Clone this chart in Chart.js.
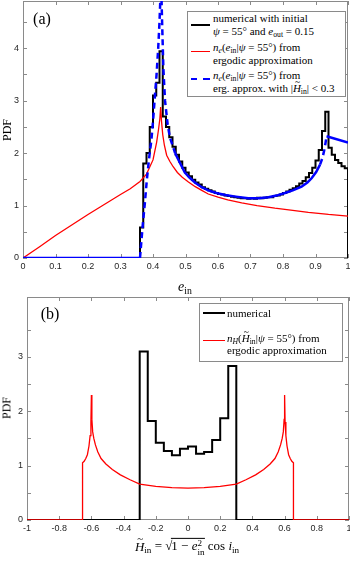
<!DOCTYPE html>
<html lang="en">
<head>
<meta charset="UTF-8">
<meta name="viewport" content="width=device-width, initial-scale=1.0">
<title>PDF of e_in and H_in</title>
<script src="https://cdn.jsdelivr.net/npm/chart.js"></script>
<style>
  body { margin:0; background:#fff; }
  #wrap { position:relative; width:350px; height:561px; overflow:hidden;
          font-family:"Liberation Serif", "DejaVu Serif", serif; color:#000; }
  .panel { position:absolute; left:0; width:350px; }
  .txt { position:absolute; white-space:nowrap; font-size:11px; line-height:12.5px; }
  .box { position:absolute; border:1px solid #8a8a8a; background:#fff; box-sizing:border-box; }
  .smp { position:absolute; height:0; }
  .lbl { position:absolute; white-space:nowrap; transform:translate(-50%,-50%); }
  sub { font-size:70%; line-height:0; vertical-align:-0.3em; }
  .ht { position:relative; display:inline-block; }
  .ht::before { content:"~"; position:absolute; left:0.22em; top:-0.62em; font-style:normal; font-size:0.85em; }
  .ss { display:inline-block; vertical-align:middle; font-size:70%; line-height:0.95; }
  .ss span { display:block; }
  .rt { display:inline-block; border-top:1px solid #000; line-height:1.15; margin-left:-1px; }
</style>
</head>
<body>
<div id="wrap">
  <div class="panel" style="top:0;height:280px"><canvas id="chartA"></canvas></div>
  <div class="panel" style="top:290px;height:250px"><canvas id="chartB"></canvas></div>

  <!-- panel (a) labels -->
  <div class="lbl" style="left:42px;top:19px;font-size:16px">(a)</div>
  <div class="lbl" style="left:7px;top:130px;font-size:12px;transform:translate(-50%,-50%) rotate(-90deg)">PDF</div>
  <div class="lbl" style="left:185px;top:287px;font-size:14px"><i>e</i><sub>in</sub></div>

  <div class="box" style="left:187px;top:11px;width:159px;height:86px"></div>
  <div class="smp" style="left:191px;top:24px;width:19px;border-top:2px solid #000"></div>
  <div class="txt" style="left:213px;top:12px">numerical with initial<br><i>ψ</i> = 55° and <i>e</i><sub>out</sub> = 0.15</div>
  <div class="smp" style="left:191px;top:51.4px;width:19px;border-top:1.3px solid #ff0000"></div>
  <div class="txt" style="left:213px;top:41px"><i>n<sub>e</sub></i>(<i>e</i><sub>in</sub>|<i>ψ</i> = 55°) from<br>ergodic approximation</div>
  <div class="smp" style="left:191px;top:77.8px;width:6px;border-top:2.5px solid #0000ff"></div>
  <div class="smp" style="left:203px;top:77.8px;width:7px;border-top:2.5px solid #0000ff"></div>
  <div class="txt" style="left:213px;top:69px"><i>n<sub>e</sub></i>(<i>e</i><sub>in</sub>|<i>ψ</i> = 55°) from<br>erg. approx. with |<i class="ht">H</i><sub>in</sub>| &lt; 0.3</div>

  <!-- panel (b) labels -->
  <div class="lbl" style="left:50px;top:314px;font-size:16px">(b)</div>
  <div class="lbl" style="left:7px;top:408px;font-size:12px;transform:translate(-50%,-50%) rotate(-90deg)">PDF</div>
  <div class="lbl" style="left:187px;top:547px;font-size:13px"><i class="ht">H</i><sub>in</sub> = √<span class="rt">1 − <i>e</i><span class="ss"><span>2</span><span>in</span></span></span> cos <i>i</i><sub>in</sub></div>

  <div class="box" style="left:199px;top:303px;width:144px;height:59px"></div>
  <div class="smp" style="left:203px;top:312px;width:22px;border-top:2px solid #000"></div>
  <div class="txt" style="left:227px;top:306.8px">numerical</div>
  <div class="smp" style="left:203px;top:340.4px;width:22px;border-top:1.3px solid #ff0000"></div>
  <div class="txt" style="left:227px;top:331.8px"><i>n<sub>H</sub></i>(<i class="ht">H</i><sub>in</sub>|<i>ψ</i> = 55°) from<br>ergodic approximation</div>
</div>

<script>
// ---- panel (a): distribution of e_in ----
// histogram: left bin edges and heights (last point closes the histogram)
const eBins = [0, 0.36, 0.37, 0.38, 0.39, 0.40, 0.41, 0.42, 0.43, 0.44, 0.45, 0.46, 0.47, 0.48, 0.49,
  0.50, 0.51, 0.52, 0.53, 0.54, 0.55, 0.56, 0.57, 0.58, 0.59, 0.60, 0.61, 0.62, 0.63, 0.64, 0.65,
  0.66, 0.67, 0.68, 0.69, 0.70, 0.71, 0.72, 0.73, 0.74, 0.75, 0.76, 0.77, 0.78, 0.79, 0.80, 0.81,
  0.82, 0.83, 0.84, 0.85, 0.86, 0.87, 0.88, 0.89, 0.90, 0.91, 0.92, 0.93, 0.94, 0.95, 0.96, 0.97,
  0.98, 0.99, 1.00];
const eHist = [0, 0.58, 1.80, 2.00, 2.50, 3.10, 3.34, 3.94, 2.70, 2.50, 2.30, 2.12, 1.97, 1.84, 1.72,
  1.63, 1.56, 1.49, 1.44, 1.40, 1.35, 1.32, 1.29, 1.27, 1.24, 1.22, 1.21, 1.19, 1.18, 1.17, 1.16,
  1.15, 1.14, 1.14, 1.13, 1.14, 1.13, 1.15, 1.14, 1.15, 1.16, 1.16, 1.18, 1.19, 1.21, 1.24, 1.27,
  1.30, 1.33, 1.37, 1.42, 1.47, 1.54, 1.62, 1.72, 1.86, 2.06, 2.42, 2.79, 2.10, 1.97, 1.87, 1.81,
  1.75, 1.71, 0];

// ergodic approximation
const eRedX = [0, 0.05, 0.1, 0.15, 0.2, 0.25, 0.3, 0.33, 0.36, 0.38, 0.40, 0.411, 0.417, 0.421, 0.4235,
  0.426, 0.43, 0.435, 0.442, 0.452, 0.462, 0.475, 0.49, 0.509, 0.53, 0.55, 0.57, 0.6, 0.63, 0.673,
  0.72, 0.775, 0.83, 0.878, 0.94, 1.0];
const eRedY = [0, 0.21, 0.43, 0.63, 0.83, 1.02, 1.21, 1.32, 1.46, 1.60, 1.87, 2.20, 2.45, 2.65, 2.88,
  2.62, 2.35, 2.15, 1.96, 1.84, 1.74, 1.63, 1.54, 1.45, 1.36, 1.29, 1.22, 1.16, 1.11, 1.05,
  1.00, 0.95, 0.91, 0.87, 0.83, 0.80];

// ergodic approximation restricted to |H_in| < 0.3
const eBlueX = [0, 0.36, 0.364, 0.368, 0.375, 0.381, 0.388, 0.395, 0.40, 0.406, 0.411, 0.416, 0.42,
  0.423, 0.4245, 0.426, 0.428, 0.432, 0.437, 0.445, 0.452, 0.468, 0.483, 0.498, 0.513, 0.529, 0.55,
  0.57, 0.595, 0.622, 0.655, 0.693, 0.725, 0.755, 0.78, 0.806, 0.83, 0.857, 0.875, 0.888, 0.902,
  0.914, 0.922, 0.927, 0.931, 0.934, 1.0];
const eBlueY = [0, 0, 0.3, 0.6, 1.05, 1.49, 1.9, 2.25, 2.6, 3.1, 3.5, 4.0, 4.5,
  5.0, 5.6, 5.0, 4.5, 3.6, 3.0, 2.55, 2.3, 2.0, 1.81, 1.63, 1.53, 1.44, 1.35,
  1.29, 1.24, 1.20, 1.17, 1.14, 1.14, 1.16, 1.19, 1.24, 1.29, 1.36, 1.44, 1.52, 1.64,
  1.78, 1.92, 2.06, 2.20, 2.32, 2.20];

// ---- panel (b): distribution of H_in ----
const hBins = [-1, -0.3, -0.25, -0.2, -0.15, -0.1, -0.05, 0, 0.05, 0.1, 0.15, 0.2, 0.25, 0.3, 1];
const hHist = [0, 3.10, 1.82, 1.42, 1.27, 1.19, 1.31, 1.35, 1.22, 1.25, 1.47, 1.87, 2.83, 0, 0];

const hRedX = [-1, -0.655, -0.655, -0.645, -0.635, -0.625, -0.615, -0.608, -0.603, -0.6, -0.597,
  -0.592, -0.585, -0.575, -0.56, -0.54, -0.51, -0.47, -0.42, -0.36, -0.3, -0.2, -0.1, 0,
  0.1, 0.2, 0.3, 0.36, 0.42, 0.47, 0.51, 0.54, 0.56, 0.575, 0.585, 0.592, 0.597, 0.6, 0.603,
  0.608, 0.615, 0.625, 0.635, 0.645, 0.655, 0.655, 1];
const hRedY = [0, 0, 1.05, 1.08, 1.13, 1.20, 1.36, 1.55, 1.80, 2.30, 1.85,
  1.62, 1.50, 1.38, 1.25, 1.13, 1.03, 0.93, 0.83, 0.74, 0.66, 0.62, 0.595, 0.585,
  0.595, 0.62, 0.66, 0.74, 0.83, 0.93, 1.03, 1.13, 1.25, 1.38, 1.50, 1.62, 1.85, 2.30, 1.80,
  1.55, 1.36, 1.20, 1.13, 1.08, 1.05, 0, 0];

const pts = (xs, ys) => xs.map((x, i) => ({ x: x, y: ys[i] }));

const tickFont = { family: "'Liberation Sans', Arial, sans-serif", size: 9 };
const tickColor = '#262626';
const axisColor = '#8a8a8a';

// MATLAB style box with inward ticks on all four sides
const boxTicks = {
  id: 'boxTicks',
  beforeDatasetsDraw(chart) {
    const { ctx, chartArea: a, scales: { x, y } } = chart;
    ctx.save();
    ctx.strokeStyle = axisColor;
    ctx.lineWidth = 1;
    ctx.beginPath();
    x.ticks.forEach(t => {
      const px = Math.round(x.getPixelForValue(t.value)) + 0.5;
      ctx.moveTo(px, a.bottom); ctx.lineTo(px, a.bottom - 4);
      ctx.moveTo(px, a.top); ctx.lineTo(px, a.top + 4);
    });
    y.ticks.forEach(t => {
      if (Math.abs(t.value * 2 - Math.round(t.value * 2)) > 1e-6) return;
      const py = Math.round(y.getPixelForValue(t.value)) + 0.5;
      ctx.moveTo(a.left, py); ctx.lineTo(a.left + 4, py);
      ctx.moveTo(a.right, py); ctx.lineTo(a.right - 4, py);
    });
    ctx.stroke();
    ctx.strokeRect(a.left + 0.5, a.top + 0.5, a.width - 1, a.height - 1);
    ctx.restore();
  }
};

function axes(xmin, xmax, xstep, ymax, ywidth, xheight) {
  return {
    x: {
      type: 'linear', min: xmin, max: xmax,
      grid: { display: false, drawTicks: false }, border: { display: false },
      ticks: { stepSize: xstep, autoSkip: false, maxRotation: 0, padding: 3,
               font: tickFont, color: tickColor,
               callback: v => String(+v.toFixed(1)) },
      afterFit: s => { s.height = xheight; s.paddingLeft = 0; s.paddingRight = 0; }
    },
    y: {
      min: 0, max: ymax,
      grid: { display: false, drawTicks: false }, border: { display: false },
      ticks: { stepSize: 0.5, autoSkip: false, padding: 4, font: tickFont, color: tickColor,
               callback: v => (Math.abs(v - Math.round(v)) < 1e-6 ? String(Math.round(v)) : '') },
      afterFit: s => { s.width = ywidth; s.paddingTop = 0; s.paddingBottom = 0; }
    }
  };
}

const common = {
  responsive: true, maintainAspectRatio: false, animation: false,
  plugins: { legend: { display: false }, tooltip: { enabled: false } },
  elements: { point: { radius: 0 } }
};

new Chart(document.getElementById('chartA'), {
  type: 'line',
  data: {
    datasets: [
      { data: pts(eBins, eHist), borderColor: '#000', borderWidth: 2, stepped: 'before', order: 2 },
      { data: pts(eRedX, eRedY), borderColor: '#ff0000', borderWidth: 1.3, order: 1 },
      { data: pts(eBlueX, eBlueY), borderColor: '#0000ff', borderWidth: 2.5, order: 0,
        segment: { borderDash: c => {
          const dx = Math.abs(c.p1.x - c.p0.x), dy = Math.abs(c.p1.y - c.p0.y);
          return (dy > 2.5 * dx && dy > 6) ? [6, 4] : undefined;
        } } }
    ]
  },
  options: Object.assign({}, common, {
    layout: { padding: { top: 1, right: 2, left: 0, bottom: 0 } },
    scales: axes(0, 1, 0.1, 4.9, 23, 22)
  }),
  plugins: [boxTicks]
});

new Chart(document.getElementById('chartB'), {
  type: 'line',
  data: {
    datasets: [
      { data: pts(hBins, hHist), borderColor: '#000', borderWidth: 2, stepped: 'before', order: 1 },
      { data: pts(hRedX, hRedY), borderColor: '#ff0000', borderWidth: 1.3, order: 0 }
    ]
  },
  options: Object.assign({}, common, {
    layout: { padding: { top: 7, right: 1, left: 0, bottom: 0 } },
    scales: axes(-1, 1, 0.2, 4.1, 27, 20)
  }),
  plugins: [boxTicks]
});
</script>
</body>
</html>
